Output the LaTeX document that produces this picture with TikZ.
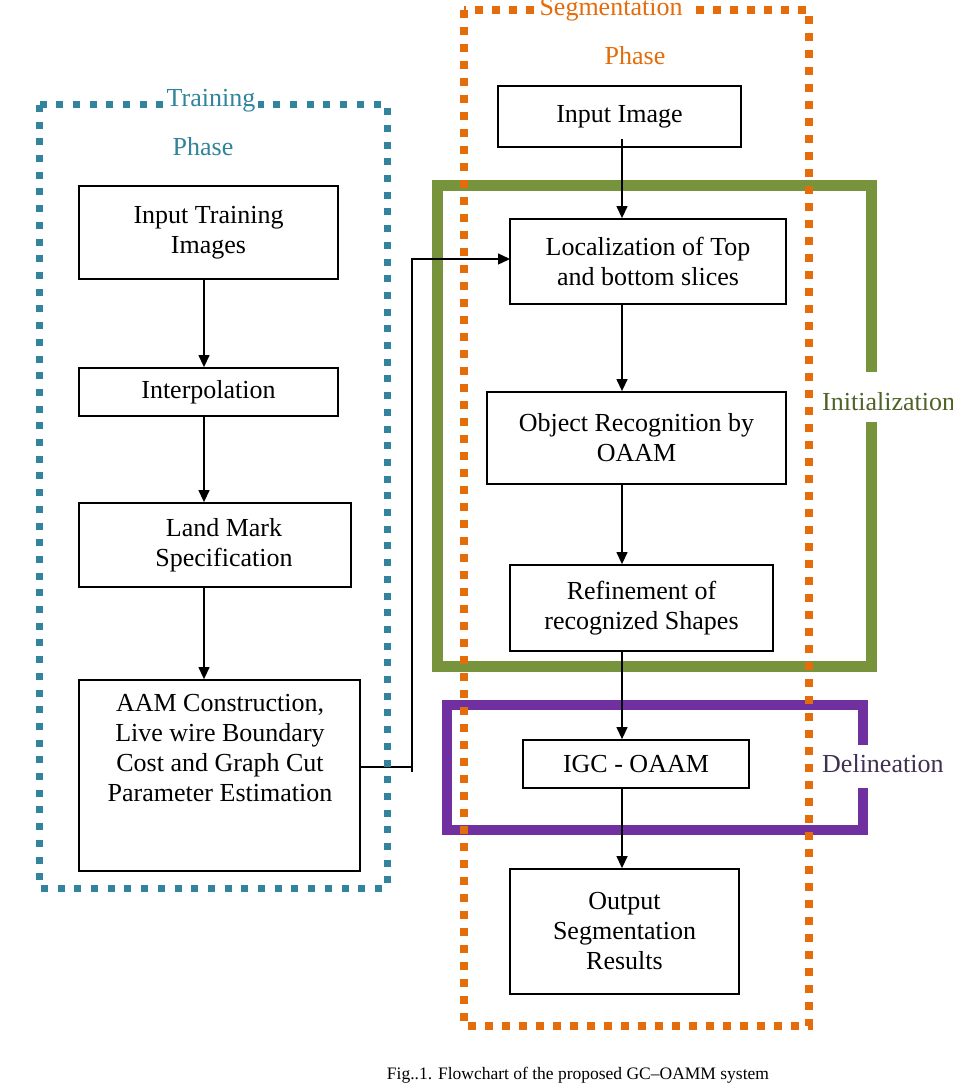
\documentclass[tikz,border=0pt]{standalone}
\usepackage{fontspec}
\setmainfont{Liberation Serif}
\usetikzlibrary{arrows.meta}
\definecolor{tealc}{HTML}{31849B}
\definecolor{orangec}{HTML}{E46C0A}
\definecolor{greenc}{HTML}{77933C}
\definecolor{purplec}{HTML}{7030A0}
\definecolor{initc}{HTML}{4F6228}
\definecolor{delinc}{HTML}{403152}
\begin{document}
\begin{tikzpicture}[x=1pt,y=-1pt,
  box/.style={draw, line width=1.8pt, fill=white, align=center, inner sep=0pt,
    font=\fontsize{26}{30}\selectfont},
  lbl/.style={align=center, inner sep=0pt, font=\fontsize{26}{30}\selectfont},
  conn/.style={line width=1.3pt},
  arr/.style={line width=1.3pt, -{Triangle[length=12pt,width=11pt]}},
  tframe/.style={draw=tealc, line width=7pt, dash pattern=on 7pt off 9.7pt},
  oframe/.style={draw=orangec, line width=8pt, dash pattern=on 8pt off 9pt},
  bracket/.style={line width=11pt, line join=miter}
]
\useasboundingbox (0,0) rectangle (952,1083);
\fill[white] (0,0) rectangle (952,1083);

% column axes
\coordinate (lx) at (204,0);
\coordinate (cx) at (622,0);

% boxes (left column)
\node[box, minimum width=259pt, minimum height=93pt] (itr) at (208.5,232.5) {Input Training\\Images};
\node[box, minimum width=259pt, minimum height=48pt] (interp) at (208.5,392) {Interpolation};
\node[box, minimum width=272pt, minimum height=84pt] (land) at (215,545) {\hspace*{18pt}Land Mark\\\hspace*{18pt}Specification};
\node[box, minimum width=281pt, minimum height=191pt] (aam) at (219.5,775.5) {};
\node[lbl] (aamt) at (220,748) {AAM Construction,\\Live wire Boundary\\Cost and Graph Cut\\Parameter Estimation};

% connector training -> segmentation
\coordinate (aamE) at (360,767);
\coordinate (bendlow) at (412,772);
\coordinate (bendtop) at (412,259);
\draw[conn] (aamE) -- (aamE -| bendlow);

% frames and brackets
\draw[bracket, draw=greenc] (871,372) -- (871,186) -- (437,186) -- (437,666) -- (871,666) -- (871,422);
\draw[bracket, draw=purplec, line width=10pt] (863,745) -- (863,705) -- (447,705) -- (447,830) -- (863,830) -- (863,788);
\draw[arr] (bendlow) -- (bendtop) -- (bendtop -| 510,0);
\draw[oframe] (464,10) rectangle (809,1026);
\draw[tframe] (39,105) rectangle (387,888);

% boxes (right column)
\node[box, minimum width=243pt, minimum height=61pt] (inimg) at (619.5,116.5) {Input Image};
\node[box, minimum width=276pt, minimum height=85pt] (loc) at (648,261.5) {Localization of Top\\and bottom slices};
\node[box, minimum width=299pt, minimum height=92pt] (obj) at (636.5,438) {Object Recognition by\\OAAM};
\node[box, minimum width=263pt, minimum height=86pt] (ref) at (641.5,608) {Refinement of\\recognized Shapes};
\node[box, minimum width=226pt, minimum height=48pt] (igc) at (636,764) {IGC - OAAM};
\node[box, minimum width=229pt, minimum height=125pt] (out) at (624.5,931.5) {Output\\Segmentation\\Results};

% arrows left column
\draw[arr] (itr.south -| lx) -- (interp.north -| lx);
\draw[arr] (interp.south -| lx) -- (land.north -| lx);
\draw[arr] (land.south -| lx) -- (aam.north -| lx);

% arrows right column
\draw[arr] ([yshift=9pt]inimg.south -| cx) -- (loc.north -| cx);
\draw[arr] (loc.south -| cx) -- (obj.north -| cx);
\draw[arr] (obj.south -| cx) -- (ref.north -| cx);
\draw[arr] (ref.south -| cx) -- (igc.north -| cx);
\draw[arr] (igc.south -| cx) -- (out.north -| cx);

% frame labels
\node[lbl, text=tealc, fill=white, inner xsep=3pt] (trl) at (211,101) {Training};
\node[lbl, text=tealc] (trp) at (203,147) {Phase};
\node[lbl, text=orangec, fill=white, inner xsep=6pt, anchor=base] (sgl) at (611,16) {Segmentation};
\node[lbl, text=orangec] (sgp) at (635,56) {Phase};
\node[lbl, text=initc, anchor=base west] (ini) at (822,410) {Initialization};
\node[lbl, text=delinc, anchor=base west] (del) at (822,772) {Delineation};

% caption
\node[inner sep=0pt, font=\fontsize{17.5}{20}\selectfont] (cap) at (578,1075) {Fig..1. Flowchart of the proposed GC--OAMM system};
\end{tikzpicture}
\end{document}
